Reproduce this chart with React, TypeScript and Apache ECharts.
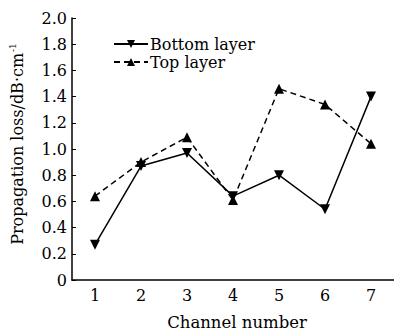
import React, { useEffect, useRef } from "react";
import * as echarts from "echarts";

const channels = ["1", "2", "3", "4", "5", "6", "7"];
const bottomLayer = [0.27, 0.87, 0.97, 0.64, 0.8, 0.54, 1.4];
const topLayer = [0.64, 0.9, 1.09, 0.61, 1.46, 1.34, 1.04];
const seriesNames = ["Bottom layer", "Top layer"];

const FONT = "'DejaVu Serif', serif";

export default function App() {
  const ref = useRef<HTMLDivElement>(null);
  useEffect(() => {
    if (!ref.current) return;
    const chart = echarts.init(ref.current, null, { renderer: "svg" });
    chart.setOption({
      animation: false,
      backgroundColor: "#fff",
      textStyle: { fontFamily: FONT, color: "#000" },
      grid: { left: 69, top: 18, width: 329, height: 271, containLabel: false },
      legend: {
        orient: "vertical",
        left: 108,
        top: 31,
        itemWidth: 34,
        itemHeight: 10,
        itemGap: 2,
        textStyle: { fontFamily: FONT, fontSize: 16, color: "#000", padding: [0, 0, 0, -3] },
        data: seriesNames,
      },
      xAxis: {
        type: "category",
        data: channels,
        boundaryGap: true,
        name: "Channel number",
        nameLocation: "middle",
        nameGap: 34,
        nameTextStyle: { fontFamily: FONT, fontSize: 16.5, color: "#000", padding: [0, 0, 0, 8] },
        axisLine: { lineStyle: { color: "#000", width: 1.5 } },
        axisTick: { alignWithLabel: true, inside: true, length: 4, lineStyle: { color: "#000" } },
        axisLabel: { fontFamily: FONT, fontSize: 16, color: "#000", margin: 7 },
        splitLine: { show: false },
      },
      yAxis: {
        type: "value",
        min: 0,
        max: 2,
        interval: 0.2,
        name: "Propagation loss/dB·cm{sup|-1}",
        nameLocation: "middle",
        nameGap: 45,
        nameRotate: 90,
        nameTextStyle: {
          fontFamily: FONT,
          fontSize: 16,
          color: "#000",
          padding: [0, 0, 0, 10],
          rich: { sup: { fontFamily: FONT, fontSize: 9, color: "#000", verticalAlign: "top", padding: [0, 0, 10, 1] } },
        },
        axisLine: { show: true, lineStyle: { color: "#000", width: 1.5 } },
        axisTick: { show: true, inside: true, length: 4, lineStyle: { color: "#000" } },
        axisLabel: {
          fontFamily: FONT,
          fontSize: 16,
          color: "#000",
          margin: 5,
          formatter: (v: number) => (v === 0 ? "0" : v.toFixed(1)),
        },
        splitLine: { show: false },
      },
      series: [
        {
          name: seriesNames[0],
          type: "line",
          data: bottomLayer,
          symbol: "triangle",
          symbolRotate: 180,
          symbolSize: 10,
          lineStyle: { color: "#000", width: 1.5, type: "solid" },
          itemStyle: { color: "#000" },
        },
        {
          name: seriesNames[1],
          type: "line",
          data: topLayer,
          symbol: "triangle",
          symbolSize: 10,
          lineStyle: { color: "#000", width: 1.5, type: [6, 4] },
          itemStyle: { color: "#000" },
        },
      ],
    });
    return () => chart.dispose();
  }, []);
  return <div ref={ref} style={{ width: 394, height: 336, position: "absolute", left: 0, top: 0 }} />;
}
